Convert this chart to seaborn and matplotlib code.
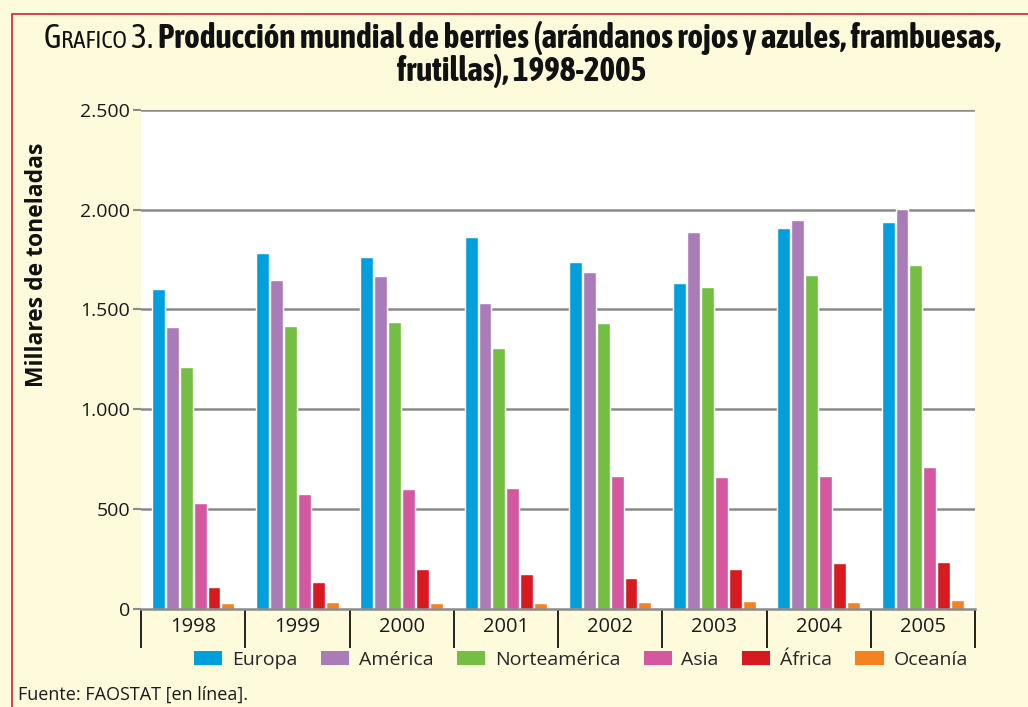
import matplotlib
matplotlib.use("Agg")
import matplotlib.pyplot as plt
import matplotlib.patches as mpatches
from matplotlib import font_manager
from matplotlib.ticker import FuncFormatter, FixedLocator
import seaborn as sns
import pandas as pd
import numpy as np

years = ["1998", "1999", "2000", "2001", "2002", "2003", "2004", "2005"]
regions = ["Europa", "América", "Norteamérica", "Asia", "África", "Oceanía"]
europa = [1600, 1785, 1765, 1865, 1740, 1634, 1910, 1940]
america = [1410, 1647, 1670, 1534, 1690, 1890, 1950, 2005]
norteamerica = [1210, 1418, 1438, 1308, 1433, 1614, 1674, 1724]
asia = [530, 572, 597, 602, 667, 657, 667, 712]
africa = [110, 133, 198, 173, 153, 198, 228, 233]
oceania = [30, 33, 28, 28, 33, 38, 33, 43]
colors = ["#00A0DC", "#A97BB7", "#74BE44", "#D5579F", "#D71920", "#F58220"]

series = [europa, america, norteamerica, asia, africa, oceania]
df = pd.DataFrame({
    "Año": np.repeat([years], len(regions), axis=0).ravel(),
    "Región": np.repeat(regions, len(years)),
    "Valor": np.concatenate(series),
})

sns.set_theme(style="white")
fonts = font_manager.fontManager.ttflist
avail = {f.name for f in fonts}
body_font = "Open Sans" if "Open Sans" in avail else "DejaVu Sans"


def wnum(w):
    try:
        return int(w)
    except Exception:
        return {"bold": 700, "heavy": 800, "black": 900, "semibold": 600,
                "demibold": 600}.get(str(w).lower(), 400)


cond_font, cond_stretch = None, "normal"
for f in fonts:
    if ("Narrow" in f.name or "Condensed" in f.name) and wnum(f.weight) >= 700:
        cond_font = f.name
        break
if cond_font is None:
    for f in fonts:
        if f.stretch in ("condensed", "semi-condensed") and wnum(f.weight) >= 700:
            cond_font, cond_stretch = f.name, f.stretch
            break
if cond_font is None:
    cond_font = body_font
plt.rcParams["font.family"] = [body_font, "DejaVu Sans"]

BG = "#FEFADC"
fig = plt.figure(figsize=(10.28, 7.07), dpi=100, facecolor=BG)
W, H = 1028, 707
fig.add_artist(mpatches.Rectangle((12 / W, -0.1), 1.2, (H - 14) / H + 0.1,
                                  transform=fig.transFigure, fill=False,
                                  edgecolor="#D2232A", linewidth=1.2))

ax = fig.add_axes([141 / W, (H - 608.5) / H, (975 - 141) / W, (608.5 - 110) / H])
ax.set_facecolor("white")
sns.barplot(data=df, x="Año", y="Valor", hue="Región", hue_order=regions,
            order=years, palette=colors, width=0.8, gap=0.07, ax=ax,
            legend=False, saturation=1)

ax.set_xlim(-0.5, len(years) - 0.5)
ax.set_ylim(0, 2500)
ax.set_yticks([0, 500, 1000, 1500, 2000, 2500])
ax.yaxis.set_major_formatter(FuncFormatter(lambda v, p: f"{int(v):,}".replace(",", ".")))
for yv in [500, 1000, 1500, 2000, 2500]:
    ax.axhline(yv, color="#8A8A8A", lw=1.8, zorder=0.5)
for s in ["left", "right", "top"]:
    ax.spines[s].set_visible(False)
ax.spines["bottom"].set_color("#8A8A8A")
ax.spines["bottom"].set_linewidth(1.8)
ax.tick_params(axis="y", length=6, width=1.5, color="#8A8A8A", labelsize=14,
               pad=2, left=True, direction="out")
ax.xaxis.set_minor_locator(FixedLocator(np.arange(-0.5, len(years), 1.0)))
ax.tick_params(axis="x", which="major", length=0, labelsize=14.5, pad=6)
ax.tick_params(axis="x", which="minor", length=28, width=1.4, color="#222222",
               bottom=True, direction="out")
ax.set_xlabel("")
ax.set_ylabel("Millares de toneladas", fontsize=16.5, fontweight="bold", color="#111111")
ax.yaxis.set_label_coords(-0.11, 0.69)
for t in ax.get_xticklabels() + ax.get_yticklabels():
    t.set_color("#1a1a1a")

handles = [mpatches.Patch(facecolor=c, edgecolor="none", label=r) for c, r in zip(colors, regions)]
fig.legend(handles=handles, loc="center", bbox_to_anchor=(581 / W, 1 - 660 / H),
           ncol=6, frameon=False, fontsize=14, handlelength=1.45, handleheight=0.75,
           handletextpad=0.5, columnspacing=1.2)

fig.text(18 / W, 1 - 695 / H, "Fuente: FAOSTAT [en línea].", fontsize=13,
         ha="left", va="center", color="#1a1a1a")

# title with small caps prefix, scaled to the reference width
renderer = fig.canvas.get_renderer()
y1 = 1 - 48 / H
base = 17
pieces = [("G", 1.0, "normal"), ("RAFICO", 0.74, "normal"), (" 3. ", 1.0, "normal"),
          ("Producción mundial de berries (arándanos rojos y azules, frambuesas,", 1.0, "bold")]
texts = []
for s, k, fw in pieces:
    t = fig.text(0, y1, s, fontsize=base * k, fontweight=fw, family=[cond_font, "DejaVu Sans"],
                 fontstretch=cond_stretch, ha="left", va="baseline", color="#111111")
    texts.append(t)
total = sum(t.get_window_extent(renderer).width for t in texts)
scale = min(1.6, 962 / total)
for t, (s, k, fw) in zip(texts, pieces):
    t.set_fontsize(base * k * scale)
widths = [t.get_window_extent(renderer).width for t in texts]
x0 = 522 - sum(widths) / 2
for t, w in zip(texts, widths):
    t.set_x(x0 / W)
    x0 += w
fig.text(522 / W, 1 - 81 / H, "frutillas), 1998-2005", fontsize=base * scale, fontweight="bold",
         family=[cond_font, "DejaVu Sans"], fontstretch=cond_stretch,
         ha="center", va="baseline", color="#111111")

fig.savefig("out.png", dpi=100, facecolor=BG)
